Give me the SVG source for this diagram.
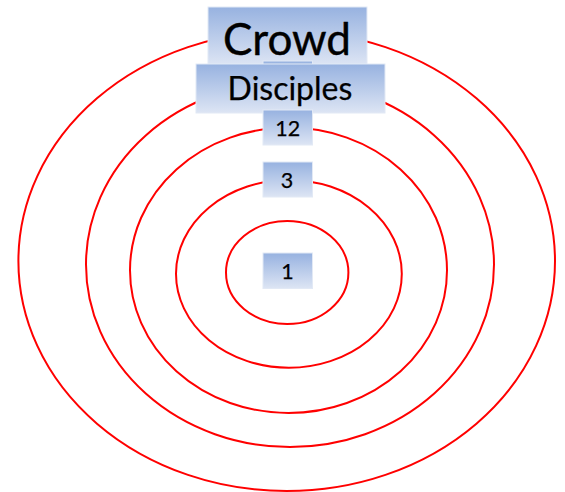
<svg xmlns="http://www.w3.org/2000/svg" width="565" height="492" viewBox="0 0 565 492">
<defs>
<linearGradient id="boxfill" x1="0" y1="0" x2="0" y2="1">
<stop offset="0" stop-color="#97b2e0"/>
<stop offset="1" stop-color="#dde5f4"/>
</linearGradient>
<style>
.ring{fill:none;stroke:#ff0000;stroke-width:2}
.box{fill:url(#boxfill);stroke:#e2e9f5;stroke-width:1}
.lbl{font-family:Lato,"Open Sans","Liberation Sans",sans-serif;fill:#000;text-anchor:middle;stroke:#000;stroke-width:0.25}
.big{stroke-width:0.4}
</style>
</defs>
<rect width="565" height="492" fill="#ffffff"/>
<g id="rings">
<ellipse class="ring" cx="286.7" cy="261" rx="268.3" ry="230"/>
<ellipse class="ring" cx="290" cy="264.5" rx="204" ry="182.5"/>
<ellipse class="ring" cx="288.5" cy="270.3" rx="158.5" ry="142.7"/>
<ellipse class="ring" cx="288.9" cy="273.8" rx="112.9" ry="93.9"/>
<ellipse class="ring" cx="287.2" cy="272.5" rx="61.2" ry="51.5"/>
</g>
<g id="connectors"/>
<g id="crowd">
<rect class="box" x="208" y="7" width="159" height="58"/>
<text class="lbl big" x="287" y="55" font-size="44">Crowd</text>
</g>
<g id="hidden-box">
<rect class="box" x="263" y="61" width="49.5" height="34"/>
</g>
<g id="disciples">
<rect class="box" x="196" y="64" width="189" height="49"/>
<text class="lbl" x="290" y="100" font-size="32">Disciples</text>
</g>
<g id="twelve">
<rect class="box" x="263" y="110" width="49.5" height="35"/>
<text class="lbl" x="287.7" y="136" font-size="21.5">12</text>
</g>
<g id="three">
<rect class="box" x="263" y="162" width="49.5" height="35"/>
<text class="lbl" x="287" y="187.5" font-size="21.5">3</text>
</g>
<g id="one">
<rect class="box" x="263" y="253" width="49.5" height="35.5"/>
<text class="lbl" x="287.5" y="278.8" font-size="21.5">1</text>
</g>
</svg>
